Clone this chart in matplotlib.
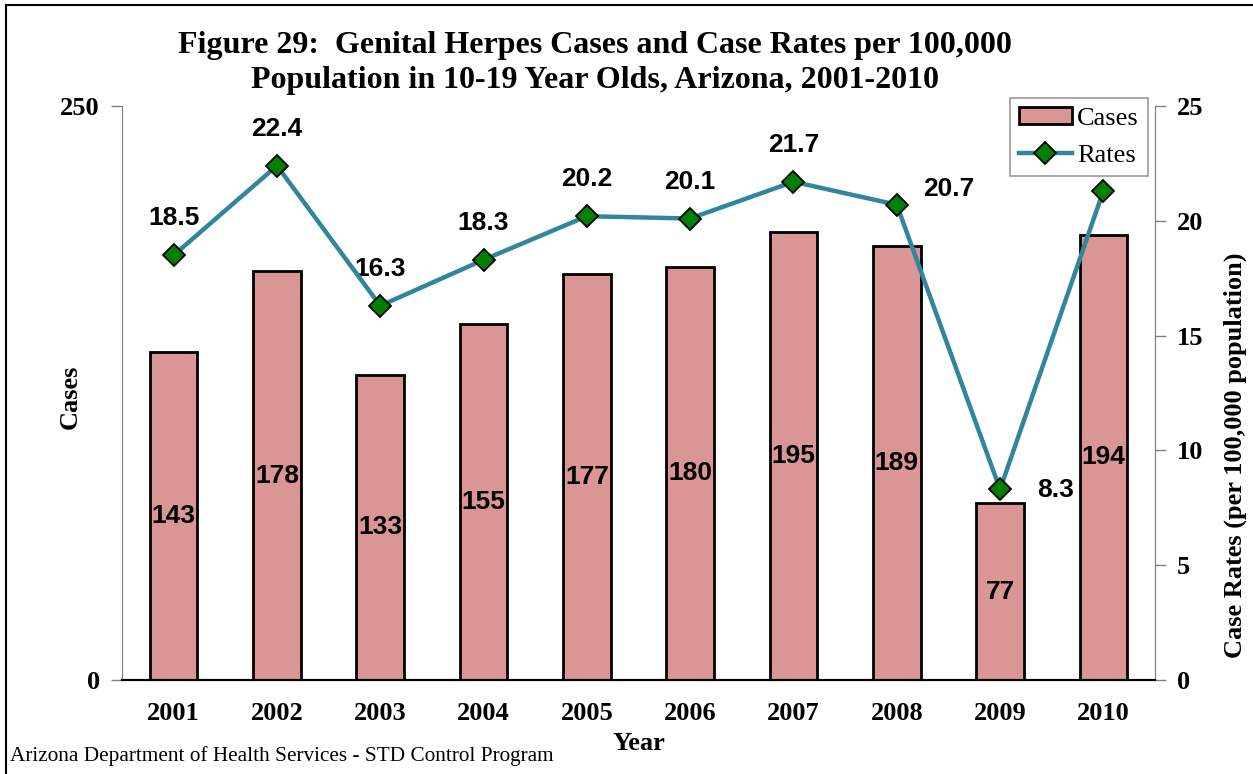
import matplotlib
matplotlib.use("Agg")
import matplotlib.pyplot as plt
from matplotlib.lines import Line2D
from matplotlib.patches import Patch

years = ["2001", "2002", "2003", "2004", "2005", "2006", "2007", "2008", "2009", "2010"]
cases = [143, 178, 133, 155, 177, 180, 195, 189, 77, 194]
rates = [18.5, 22.4, 16.3, 18.3, 20.2, 20.1, 21.7, 20.7, 8.3, 21.3]
rate_labels = ["18.5", "22.4", "16.3", "18.3", "20.2", "20.1", "21.7", "20.7", "8.3", None]

serif = "Liberation Serif"
sans = "Liberation Sans"
bar_color = "#D99694"
line_color = "#31859C"
marker_color = "#008000"

W, H = 1253, 774
fig = plt.figure(figsize=(W/100, H/100), dpi=100)
ax = fig.add_axes([122/W, 1-680/H, (1155-122)/W, (680-106)/H])
ax2 = ax.twinx()

x = list(range(len(years)))
ax.bar(x, cases, width=0.46, color=bar_color, edgecolor="black", linewidth=2, zorder=2)
ax.set_xlim(-0.5, len(years)-0.5)
ax.set_ylim(0, 250)
ax.set_yticks([0, 250])
ax.set_xticks(x)
ax.set_xticklabels(years)
for lab in ax.get_xticklabels() + ax.get_yticklabels():
    lab.set_fontfamily(serif); lab.set_fontweight("bold"); lab.set_fontsize(19)
ax.tick_params(axis="x", length=0, pad=16)
ax.tick_params(axis="y", length=8, width=1, color="#808080", pad=8)

for xi, c in zip(x, cases):
    ax.text(xi, c/2, str(c), ha="center", va="center", fontfamily=sans,
            fontweight="bold", fontsize=19, zorder=3)

ax2.plot(x, rates, color=line_color, linewidth=3.2, marker="D", markersize=11,
         markerfacecolor=marker_color, markeredgecolor="black", markeredgewidth=1.3, zorder=4)
ax2.set_ylim(0, 25)
ax2.set_yticks([0, 5, 10, 15, 20, 25])
for lab in ax2.get_yticklabels():
    lab.set_fontfamily(serif); lab.set_fontweight("bold"); lab.set_fontsize(19)
ax2.tick_params(axis="y", length=8, width=1, color="#808080", pad=8)

offsets = {7: (52, 16), 8: (56, -1)}
for i, (xi, r, lab) in enumerate(zip(x, rates, rate_labels)):
    if lab is None:
        continue
    off = offsets.get(i, (0, 37))
    ax2.annotate(lab, (xi, r), xytext=off, textcoords="offset pixels",
                 ha="center", va="center", fontfamily=sans, fontweight="bold", fontsize=19)

for a in (ax, ax2):
    a.spines["top"].set_visible(False)
    a.spines["left"].set_color("#808080")
    a.spines["right"].set_color("#808080")
    a.spines["bottom"].set_color("black")
    a.spines["bottom"].set_linewidth(1.5)
ax.set_zorder(1)
ax2.set_zorder(2)
ax.patch.set_visible(False)

ax.set_xlabel("Year", fontfamily=serif, fontweight="bold", fontsize=19, labelpad=5)
ax.set_ylabel("Cases", fontfamily=serif, fontweight="bold", fontsize=19)
ax.yaxis.set_label_coords((82-122)/1033, 0.493)
ax2.set_ylabel("Case Rates (per 100,000 population)", fontfamily=serif, fontweight="bold",
               fontsize=19)
ax2.yaxis.set_label_coords((1224-122)/1033, (680-455)/574)

fig.text(595/W, 1-63/H, "Figure 29:  Genital Herpes Cases and Case Rates per 100,000\nPopulation in 10-19 Year Olds, Arizona, 2001-2010",
         ha="center", va="center", fontfamily=serif, fontweight="bold", fontsize=23, linespacing=1.25)
fig.text(10/W, 1-756/H, "Arizona Department of Health Services - STD Control Program",
         ha="left", va="center", fontfamily=serif, fontsize=15.3)

handles = [Patch(facecolor=bar_color, edgecolor="black", linewidth=2),
           Line2D([], [], color=line_color, linewidth=3.2, marker="D", markersize=11,
                  markerfacecolor=marker_color, markeredgecolor="black", markeredgewidth=1.3)]
leg = ax2.legend(handles, ["Cases", "Rates"], loc="upper right",
                 bbox_to_anchor=(1148/W, 1-98/H), bbox_transform=fig.transFigure,
                 borderaxespad=0,
                 prop={"family": serif, "size": 19}, frameon=True, fancybox=False,
                 edgecolor="#808080", handlelength=2.0, handleheight=0.6,
                 handletextpad=0.2, borderpad=0.35, labelspacing=0.55)
leg.get_frame().set_linewidth(1.2)

fig.add_artist(Line2D([6/W, 6/W], [0, 1-5/H], color="black", linewidth=1.5, transform=fig.transFigure))
fig.add_artist(Line2D([6/W, 1], [1-5/H, 1-5/H], color="black", linewidth=1.5, transform=fig.transFigure))

fig.savefig("out.png", dpi=100)
